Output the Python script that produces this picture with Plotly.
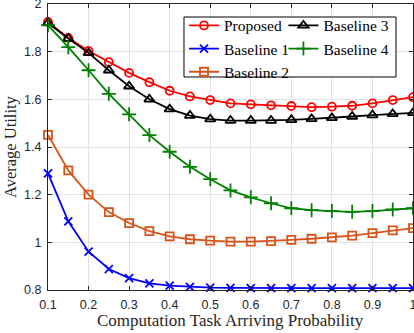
import plotly.graph_objects as go

x = [0.1, 0.15, 0.2, 0.25, 0.3, 0.35, 0.4, 0.45, 0.5, 0.55, 0.6, 0.65, 0.7, 0.75, 0.8, 0.85, 0.9, 0.95, 1.0]

proposed = [1.925, 1.858, 1.803, 1.756, 1.711, 1.672, 1.636, 1.612, 1.597, 1.583, 1.579, 1.575, 1.572, 1.567, 1.569, 1.573, 1.583, 1.597, 1.609]
baseline1 = [1.289, 1.088, 0.961, 0.888, 0.850, 0.828, 0.818, 0.813, 0.810, 0.809, 0.808, 0.808, 0.808, 0.808, 0.808, 0.808, 0.808, 0.808, 0.808]
baseline2 = [1.451, 1.302, 1.200, 1.127, 1.081, 1.047, 1.025, 1.013, 1.007, 1.003, 1.003, 1.005, 1.010, 1.015, 1.021, 1.028, 1.039, 1.050, 1.060]
baseline3 = [1.920, 1.855, 1.795, 1.722, 1.655, 1.600, 1.559, 1.532, 1.517, 1.511, 1.511, 1.511, 1.514, 1.518, 1.522, 1.528, 1.534, 1.539, 1.543]
baseline4 = [1.911, 1.819, 1.722, 1.623, 1.537, 1.450, 1.380, 1.317, 1.265, 1.218, 1.189, 1.164, 1.143, 1.135, 1.131, 1.128, 1.131, 1.138, 1.143]

x_ticks = [0.1, 0.2, 0.3, 0.4, 0.5, 0.6, 0.7, 0.8, 0.9, 1.0]
x_tick_labels = ["0.1", "0.2", "0.3", "0.4", "0.5", "0.6", "0.7", "0.8", "0.9", "1"]
y_ticks = [0.8, 1.0, 1.2, 1.4, 1.6, 1.8, 2.0]
y_tick_labels = ["0.8", "1", "1.2", "1.4", "1.6", "1.8", "2"]

x_title = "Computation Task Arriving Probability"
y_title = "Average Utility"

series = [
    ("Proposed", proposed, "#FF0000", "circle-open", 8, "legend"),
    ("Baseline 1", baseline1, "#0000FF", "x-thin-open", 8, "legend"),
    ("Baseline 2", baseline2, "#D95319", "square-open", 8, "legend"),
    ("Baseline 3", baseline3, "#000000", "triangle-up-open", 9, "legend2"),
    ("Baseline 4", baseline4, "#008000", "cross-thin-open", 10, "legend2"),
]

fig = go.Figure()
for name, ys, color, sym, size, lg in series:
    fig.add_trace(go.Scatter(
        x=x, y=ys, name=name, mode="lines+markers", legend=lg,
        line=dict(color=color, width=1.8),
        marker=dict(symbol=sym, size=size, color=color, line=dict(color=color, width=1.8)),
        cliponaxis=False,
    ))

serif = "Liberation Serif, DejaVu Serif, serif"
sans = "Liberation Sans, Arial, sans-serif"

legend_common = dict(
    orientation="v", yanchor="top", xanchor="left",
    bgcolor="rgba(0,0,0,0)", borderwidth=0,
    font=dict(family=serif, size=15.5, color="black"),
    itemwidth=30, tracegroupgap=0,
)

fig.update_layout(
    width=414, height=333,
    margin=dict(l=48, r=1, t=4, b=43, autoexpand=False),
    paper_bgcolor="white", plot_bgcolor="white",
    showlegend=True,
    legend=dict(x=0.3726, y=0.983, **legend_common),
    legend2=dict(x=0.645, y=0.983, **legend_common),
    shapes=[dict(type="rect", xref="paper", yref="paper",
                 x0=0.3726, x1=0.9534, y0=0.7448, y1=0.9545,
                 line=dict(color="black", width=1), fillcolor="white", layer="above")],
    annotations=[
        dict(text=x_title, xref="paper", yref="paper", x=0.5, y=0, yshift=-30,
             xanchor="center", yanchor="middle", showarrow=False,
             font=dict(family=serif, size=17, color="#262626")),
        dict(text=y_title, xref="paper", yref="paper", x=0, xshift=-38, y=0.5,
             xanchor="center", yanchor="middle", textangle=-90, showarrow=False,
             font=dict(family=serif, size=16.5, color="#262626")),
    ],
)
fig.update_xaxes(
    range=[0.1, 1.0], tickvals=x_ticks, ticktext=x_tick_labels,
    showgrid=True, gridcolor="#E3E3E3", gridwidth=1,
    showline=True, linecolor="#262626", linewidth=1, mirror="ticks",
    ticks="inside", ticklen=4, tickcolor="#262626",
    tickfont=dict(family=sans, size=12.5, color="#262626"),
    ticklabeloverflow="allow", ticklabelstandoff=3,
    zeroline=False, automargin=False,
)
fig.update_yaxes(
    range=[0.8, 2.0], tickvals=y_ticks, ticktext=y_tick_labels,
    showgrid=True, gridcolor="#E3E3E3", gridwidth=1,
    showline=True, linecolor="#262626", linewidth=1, mirror="ticks",
    ticks="inside", ticklen=4, tickcolor="#262626",
    tickfont=dict(family=sans, size=12.5, color="#262626"),
    ticklabeloverflow="allow", ticklabelstandoff=3,
    zeroline=False, automargin=False,
)

fig.write_html("out.html", config={"displayModeBar": False},
               post_script="document.body.style.margin='0';document.body.style.padding='0';")
